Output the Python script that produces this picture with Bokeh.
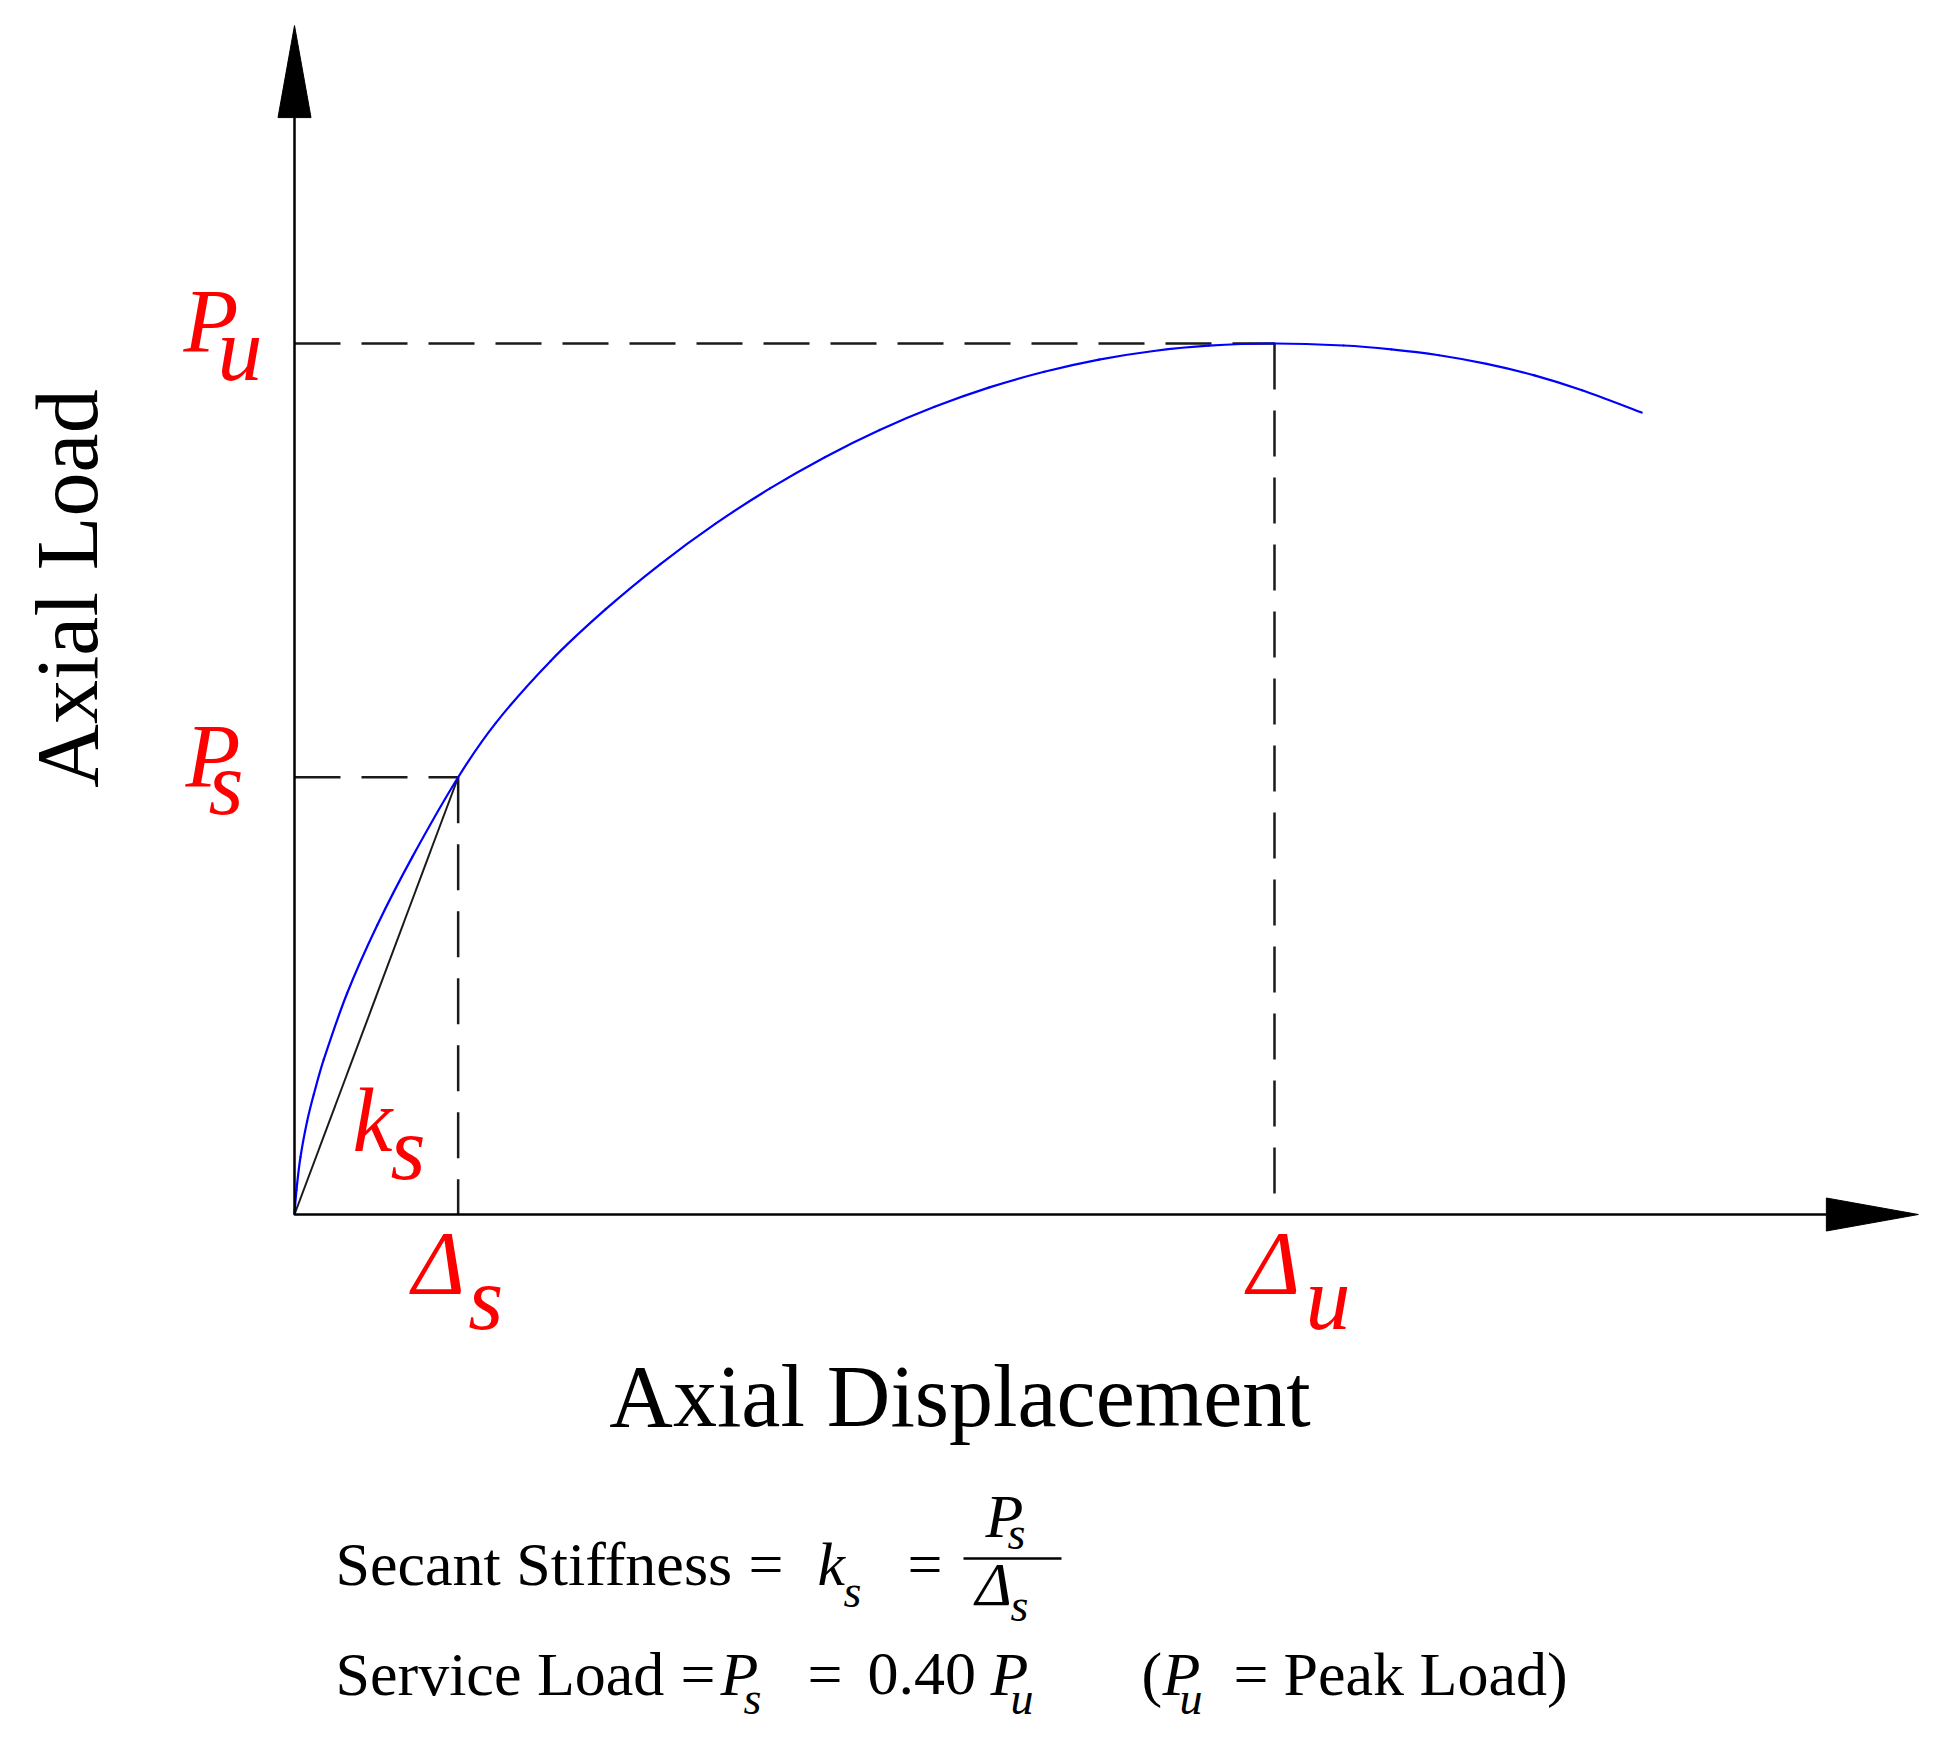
import math
from bokeh.plotting import figure
from bokeh.models import Range1d
from bokeh.embed import file_html
from bokeh.resources import INLINE
from bokeh.core.properties import value

# ---------------- data ----------------
# axial displacement (Delta_u = 1) and axial load (P_u = 1)
disp = [0.0, 0.0020, 0.0061, 0.0129, 0.0197, 0.0299, 0.0537, 0.0844,
        0.120, 0.167, 0.2055, 0.2614, 0.3173, 0.3734, 0.4293, 0.4852, 0.5412,
        0.5971, 0.6531, 0.7091, 0.7650, 0.8209, 0.8768, 0.9329, 1.0, 1.0705,
        1.1192, 1.1679, 1.2165, 1.2652, 1.3139, 1.3747]
load = [0.0, 0.028, 0.066, 0.107, 0.138, 0.178, 0.254, 0.332,
        0.410, 0.502, 0.5645, 0.6356, 0.6947, 0.7468, 0.7929, 0.8336, 0.8695,
        0.9007, 0.9273, 0.9496, 0.9675, 0.9815, 0.9914, 0.9975, 1.0, 0.9977,
        0.9933, 0.9865, 0.9766, 0.9634, 0.9463, 0.9207]

DELTA_S = 0.167   # service displacement
DELTA_U = 1.0     # displacement at peak
P_S = 0.502       # service load (as drawn)
P_U = 1.0         # peak load
AXIS_X_END = 1.657
AXIS_Y_END = 1.365

# ---------------- layout helpers ----------------
W, H = 1923, 1730
PX_X = 980.0   # pixels per displacement unit
PX_Y = 871.0   # pixels per load unit
X0 = -294 / PX_X
Y1 = 1214 / PX_Y
X1 = X0 + W / PX_X
Y0 = Y1 - H / PX_Y
BASE_FIX = 0.34   # em shift so that the anchor sits on the alphabetic baseline


def sx(px):
    return X0 + px / PX_X


def sy(py):
    return Y1 - py / PX_Y


p = figure(width=W, height=H, x_range=Range1d(X0, X1), y_range=Range1d(Y0, Y1),
           output_backend="svg", toolbar_location=None, min_border=0,
           x_axis_type=None, y_axis_type=None)
p.grid.visible = False
p.outline_line_color = None
p.background_fill_color = "white"
p.border_fill_color = "white"

SERIF = value("Liberation Serif")


def add_text(xs, ys, texts, size, style="normal", color="black", xo=None, yo=None,
             align="left", angle=0.0):
    n = len(texts)
    xo = list(xo) if xo is not None else [0] * n
    yo = list(yo) if yo is not None else [0] * n
    fix = BASE_FIX * size
    if angle:
        xo = [v - fix for v in xo]
    else:
        yo = [v - fix for v in yo]
    p.text(x=xs, y=ys, text=texts, x_offset=xo, y_offset=yo, angle=angle,
           text_font=SERIF, text_font_style=style, text_font_size=f"{size}px",
           text_color=color, text_align=align, text_baseline="alphabetic")


# dashed guide lines
DASH = "46 21"
for xs_, ys_ in [([0, DELTA_U], [P_U, P_U]), ([DELTA_U, DELTA_U], [P_U, 0]),
                 ([0, DELTA_S], [P_S, P_S]), ([DELTA_S, DELTA_S], [P_S, 0])]:
    p.line(xs_, ys_, line_color="#1a1a1a", line_width=2.5, line_dash=DASH)

# secant line
p.line([0, DELTA_S], [0, P_S], line_color="#1a1a1a", line_width=2)

# load-displacement curve: smooth cubic segments through the read points
pts = [(x * PX_X, y * PX_Y) for x, y in zip(disp, load)]
t = [0.0]
for i in range(1, len(pts)):
    t.append(t[-1] + math.hypot(pts[i][0] - pts[i - 1][0], pts[i][1] - pts[i - 1][1]))
tan = []
for i in range(len(pts)):
    a = max(i - 1, 0)
    b = min(i + 1, len(pts) - 1)
    dt = t[b] - t[a]
    tan.append(((pts[b][0] - pts[a][0]) / dt, (pts[b][1] - pts[a][1]) / dt))
bx0, by0, bx1, by1, cx0, cy0, cx1, cy1 = ([] for _ in range(8))
for i in range(len(pts) - 1):
    h = (t[i + 1] - t[i]) / 3.0
    bx0.append(disp[i]); by0.append(load[i])
    bx1.append(disp[i + 1]); by1.append(load[i + 1])
    cx0.append((pts[i][0] + tan[i][0] * h) / PX_X)
    cy0.append((pts[i][1] + tan[i][1] * h) / PX_Y)
    cx1.append((pts[i + 1][0] - tan[i + 1][0] * h) / PX_X)
    cy1.append((pts[i + 1][1] - tan[i + 1][1] * h) / PX_Y)
p.bezier(x0=bx0, y0=by0, x1=bx1, y1=by1, cx0=cx0, cy0=cy0, cx1=cx1, cy1=cy1,
         line_color="#0000ff", line_width=2.2, line_cap="round")

# axes with arrow heads
head_len_x = 92 / PX_X
head_hw_x = 16.5 / PX_Y
head_len_y = 92 / PX_Y
head_hw_y = 16.5 / PX_X
p.line([0, AXIS_X_END - head_len_x], [0, 0], line_color="black", line_width=2.5)
p.line([0, 0], [0, AXIS_Y_END - head_len_y], line_color="black", line_width=2.5)
p.patch([AXIS_X_END, AXIS_X_END - head_len_x, AXIS_X_END - head_len_x],
        [0, head_hw_x, -head_hw_x], fill_color="black", line_color="black")
p.patch([0, head_hw_y, -head_hw_y],
        [AXIS_Y_END, AXIS_Y_END - head_len_y, AXIS_Y_END - head_len_y],
        fill_color="black", line_color="black")

# red symbol labels: (text, x, y, x_offset px, y_offset px)
red = [
    ("P", 0, P_U, -111, 9), ("u", 0, P_U, -77, 37),
    ("P", 0, P_S, -109, 10), ("s", 0, P_S, -86, 37),
    ("k", 0, 0, 58, -63), ("s", 0, 0, 96, -35),
    ("\u0394", DELTA_S, 0, -46, 80), ("s", DELTA_S, 0, 10, 115),
    ("\u0394", DELTA_U, 0, -27, 80), ("u", DELTA_U, 0, 31, 115),
]
add_text([r[1] for r in red], [r[2] for r in red], [r[0] for r in red], 90,
         style="italic", color="#ff0000", xo=[r[3] for r in red], yo=[r[4] for r in red])

# axis titles
add_text([sx(959.5)], [sy(1426)], ["Axial Displacement"], 88, align="center")
add_text([sx(97)], [sy(588)], ["Axial Load"], 88, align="center", angle=math.pi / 2)

# formula lines
normal = [
    ("Secant Stiffness", 335, 1585), ("=", 748, 1585), ("=", 907, 1585),
    ("Service Load", 335, 1695), ("=", 680, 1695), ("=", 807, 1695),
    ("0.40", 867, 1695), ("(", 1141, 1695), ("=", 1233, 1695),
    ("Peak Load)", 1283, 1695),
]
add_text([sx(t_[1]) for t_ in normal], [sy(t_[2]) for t_ in normal],
         [t_[0] for t_ in normal], 62)

ital = [
    ("k", 817, 1585), ("P", 985, 1537), ("\u0394", 975, 1605),
    ("P", 720, 1695), ("P", 990, 1695), ("P", 1162, 1695),
]
add_text([sx(t_[1]) for t_ in ital], [sy(t_[2]) for t_ in ital],
         [t_[0] for t_ in ital], 62, style="italic")

subs = [
    ("s", 843, 1607), ("s", 1007, 1549), ("s", 1010, 1621),
    ("s", 743, 1714), ("u", 1010, 1714), ("u", 1179, 1714),
]
add_text([sx(t_[1]) for t_ in subs], [sy(t_[2]) for t_ in subs],
         [t_[0] for t_ in subs], 46, style="italic")

# fraction bar
p.line([sx(963), sx(1061)], [sy(1558), sy(1558)], line_color="black", line_width=2.5)

open("out.html", "w").write(file_html(p, INLINE))
